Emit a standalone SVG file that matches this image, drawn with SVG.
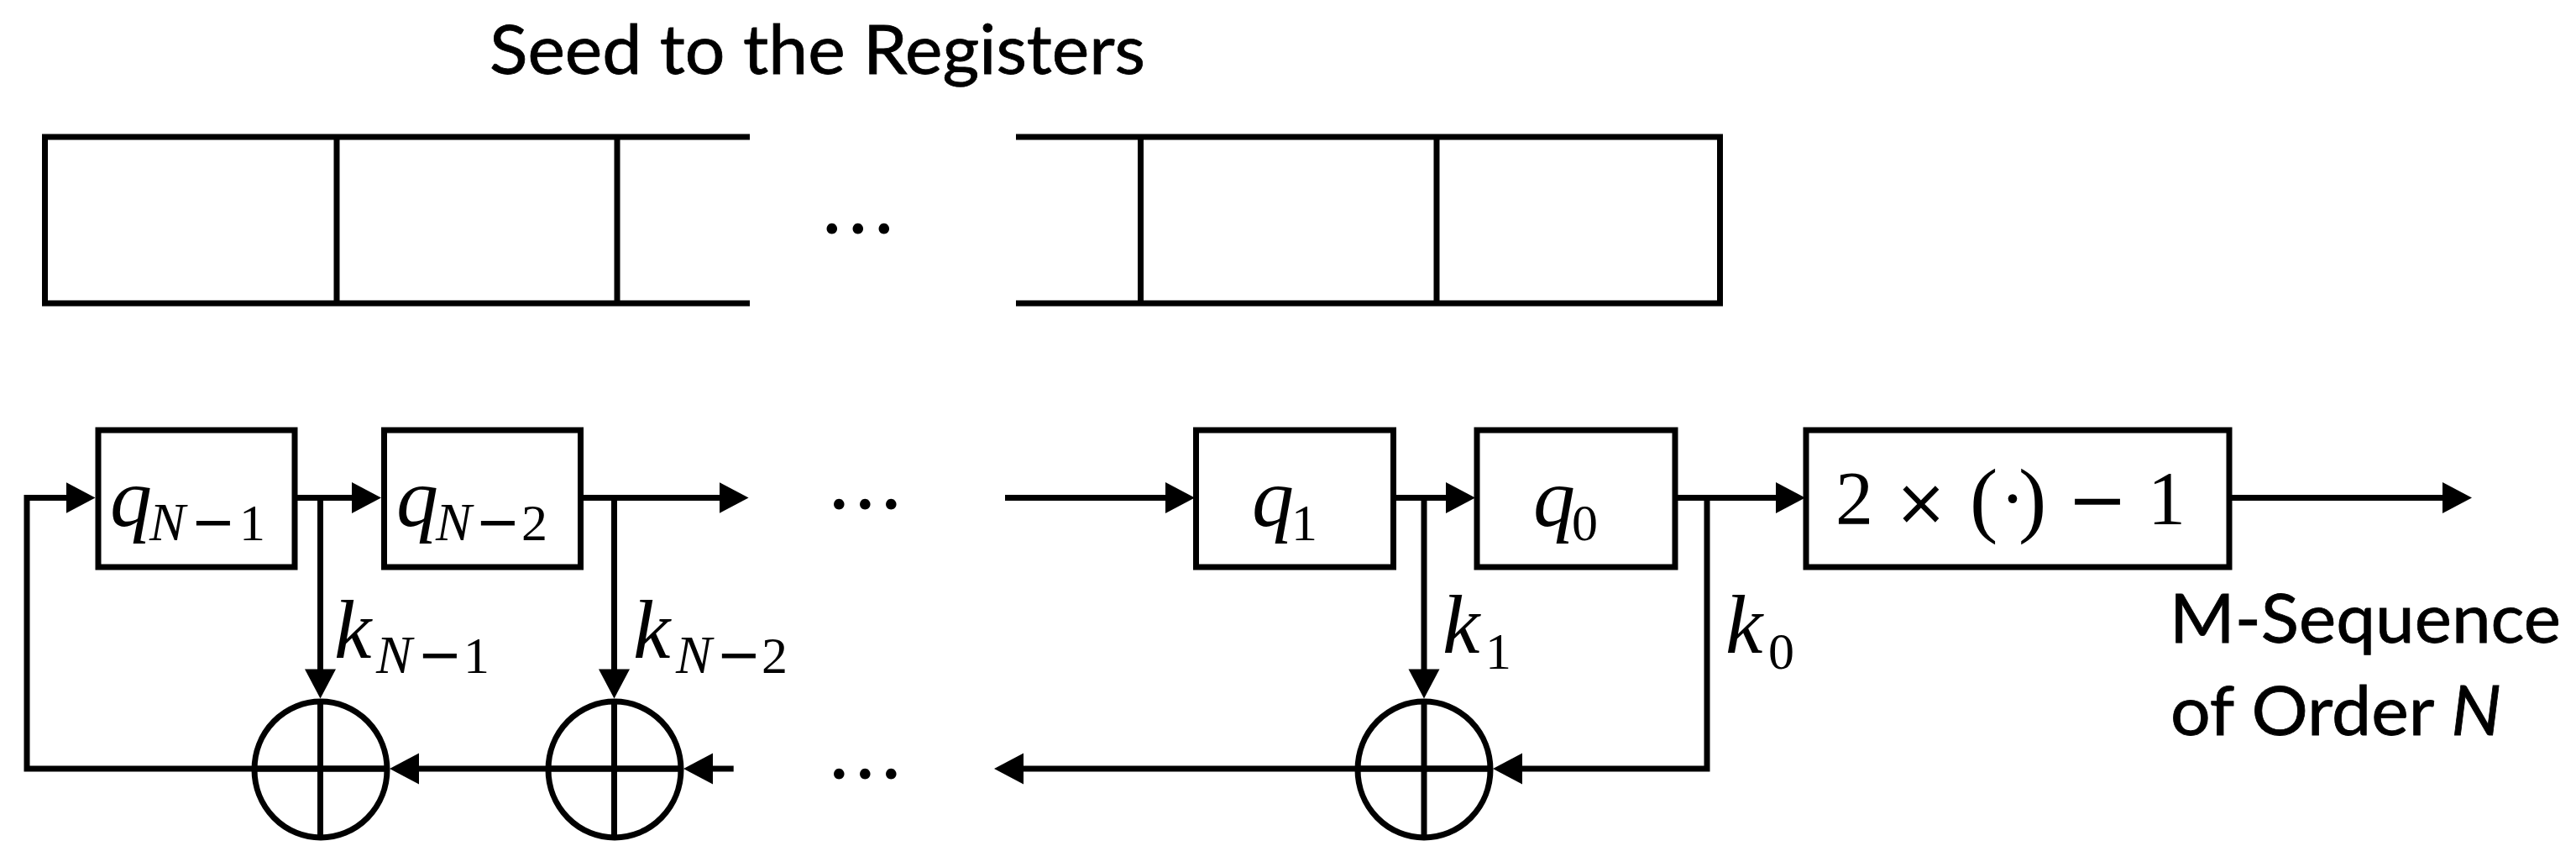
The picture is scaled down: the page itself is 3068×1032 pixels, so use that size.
<svg xmlns="http://www.w3.org/2000/svg" width="3068" height="1032" viewBox="0 0 3068 1032">
<style>
.w{fill:#fff;stroke:#000;stroke-width:7}
.l{fill:none;stroke:#000;stroke-width:7}
.a{marker-end:url(#ah)}
text{fill:#000}
.t{font-family:Lato,"Open Sans",sans-serif;font-size:82px;stroke:#000;stroke-width:.8px}
.e{font-family:Lato,"Open Sans",sans-serif;font-size:100px}
.v{font-family:"Liberation Serif",serif;font-style:italic;font-size:100px}
.s{font-family:"Liberation Serif",serif;font-style:italic;font-size:64px}
.n{font-family:"Liberation Serif",serif;font-size:62px}
.d{font-family:"Liberation Serif",serif;font-size:90px}
.p{font-family:"Liberation Serif",serif;font-size:100px}
.m{font-family:"DejaVu Sans",sans-serif;font-size:64px}
.mb{font-family:"DejaVu Sans",sans-serif;font-size:86px}
.x{font-family:"DejaVu Sans",sans-serif;font-size:76px}
</style>
<defs>
<marker id="ah" markerUnits="userSpaceOnUse" markerWidth="36" markerHeight="38" refX="1" refY="18.5" orient="auto"><path d="M0,0L35,18.5L0,37z" fill="#000"/></marker>
</defs>
<rect width="3068" height="1032" fill="#fff"/>
<g id="seed-registers">
<path class="l" d="M893,163H53.5V361H893M1210,163H2048.5V361H1210M401,163V361M735,163V361M1358.5,163V361M1711,163V361"/>
</g>
<g id="connectors">
<path class="l a" d="M873.7,915H848"/>
<path class="l a" d="M814,915H498"/>
<path class="l a" d="M464,915H32V592.5H79.5"/>
<path class="l a" d="M354,592.5H420"/>
<path class="l a" d="M695,592.5H857.6"/>
<path class="l a" d="M1197,592.5H1389"/>
<path class="l a" d="M1663,592.5H1723"/>
<path class="l a" d="M1998,592.5H2116"/>
<path class="l a" d="M2658,592.5H2910"/>
<path class="l a" d="M381.5,592.5V797.4"/>
<path class="l a" d="M731.5,592.5V797.4"/>
<path class="l a" d="M1696,592.5V797.4"/>
<path class="l a" d="M2033,592.5V915H1812"/>
<path class="l a" d="M1778,915H1218"/>
</g>
<g id="q-n-1"><rect class="w" x="117" y="512" width="234" height="163"/>
<text><tspan class="v" x="131" y="626">q</tspan><tspan class="s" x="178" y="643">N</tspan><tspan class="m" x="227" y="643">−</tspan><tspan class="n" x="285" y="643">1</tspan></text></g>
<g id="q-n-2"><rect class="w" x="457.5" y="512" width="234" height="163"/>
<text><tspan class="v" x="472" y="626">q</tspan><tspan class="s" x="519" y="643">N</tspan><tspan class="m" x="566" y="643">−</tspan><tspan class="n" x="621" y="643">2</tspan></text></g>
<g id="q-1"><rect class="w" x="1424.5" y="512" width="235" height="163"/>
<text><tspan class="v" x="1491" y="626">q</tspan><tspan class="n" x="1538" y="643">1</tspan></text></g>
<g id="q-0"><rect class="w" x="1759" y="512" width="236" height="163"/>
<text><tspan class="v" x="1826" y="626">q</tspan><tspan class="n" x="1872" y="643">0</tspan></text></g>
<g id="map-box"><rect class="w" x="2151" y="512" width="504" height="163"/>
<text class="d" y="624"><tspan x="2186">2</tspan><tspan class="x" x="2256">×</tspan><tspan class="p" y="627" x="2346">(</tspan><tspan x="2382" y="624">·</tspan><tspan class="p" y="627" x="2404">)</tspan><tspan class="mb" y="624" x="2462">−</tspan><tspan x="2558">1</tspan></text></g>
<g id="xor-1"><ellipse class="l" cx="382" cy="916" rx="79" ry="81"/><path class="l" d="M381.5,835V997M303,915H461"/></g>
<g id="xor-2"><ellipse class="l" cx="732" cy="916" rx="79" ry="81"/><path class="l" d="M731.5,835V997M653,915H811"/></g>
<g id="xor-3"><ellipse class="l" cx="1696" cy="916" rx="79" ry="81"/><path class="l" d="M1696,835V997M1617,915H1775"/></g>
<g id="labels">
<text><tspan class="v" x="398" y="783">k</tspan><tspan class="s" x="448" y="801">N</tspan><tspan class="m" x="497" y="801">−</tspan><tspan class="n" x="552" y="801">1</tspan></text>
<text><tspan class="v" x="754" y="783">k</tspan><tspan class="s" x="805" y="801">N</tspan><tspan class="m" x="853" y="801">−</tspan><tspan class="n" x="907" y="801">2</tspan></text>
<text><tspan class="v" x="1718" y="777">k</tspan><tspan class="n" x="1769" y="796">1</tspan></text>
<text><tspan class="v" x="2055" y="777">k</tspan><tspan class="n" x="2106" y="796">0</tspan></text>
<text class="t" x="583" y="88" textLength="781" lengthAdjust="spacingAndGlyphs">Seed to the Registers</text>
<text class="t" x="2584" y="765" textLength="466" lengthAdjust="spacingAndGlyphs">M-Sequence</text>
<text class="t" x="2585" y="875" textLength="394" lengthAdjust="spacingAndGlyphs">of Order <tspan font-style="italic">N</tspan></text>
<text class="e" x="979 1010 1041" y="278">...</text>
<text class="e" x="987.5 1018.5 1049.5" y="606">...</text>
<text class="e" x="987.5 1018.5 1049.5" y="927">...</text>
</g>
</svg>
